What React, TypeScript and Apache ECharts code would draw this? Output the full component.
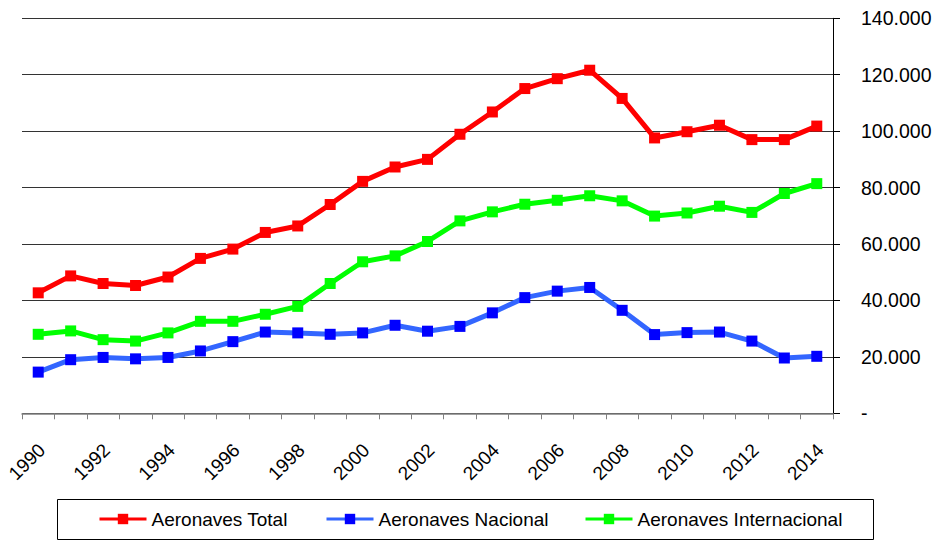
import React, { useEffect, useRef } from "react";
import * as echarts from "echarts";

const years = [
  "1990", "1991", "1992", "1993", "1994", "1995", "1996", "1997", "1998", "1999",
  "2000", "2001", "2002", "2003", "2004", "2005", "2006", "2007", "2008", "2009",
  "2010", "2011", "2012", "2013", "2014",
];

const aeronavesTotal = [
  42700, 48700, 46000, 45300, 48300, 54900, 58200, 64100, 66400, 74000,
  82200, 87300, 90000, 98900, 106800, 115100, 118600, 121600, 111600, 97600,
  99800, 102100, 97000, 97000, 101800,
];

const aeronavesNacional = [
  14600, 19000, 19800, 19300, 19800, 22100, 25400, 28800, 28500, 28000,
  28500, 31200, 29100, 30800, 35600, 41000, 43300, 44600, 36500, 27900,
  28600, 28800, 25600, 19600, 20200,
];

const aeronavesInternacional = [
  28000, 29200, 26100, 25600, 28500, 32600, 32600, 35100, 37900, 46000,
  53700, 55800, 60900, 68200, 71400, 74100, 75500, 77100, 75300, 69900,
  71000, 73400, 71200, 77900, 81400,
];

const seriesNames = ["Aeronaves Total", "Aeronaves Nacional", "Aeronaves Internacional"];

const FONT = "Liberation Sans";

function fmt(v: number): string {
  if (v === 0) return "-";
  const s = String(Math.round(v));
  return s.replace(/\B(?=(\d{3})+(?!\d))/g, ".");
}

export default function App() {
  const ref = useRef<HTMLDivElement>(null);
  useEffect(() => {
    if (!ref.current) return;
    const chart = echarts.init(ref.current, undefined, { renderer: "svg" });
    const legendBase = {
      orient: "horizontal",
      top: 509,
      padding: 0,
      itemWidth: 47,
      itemHeight: 13,
      itemGap: 0,
      lineStyle: { width: 3 },
      textStyle: { fontFamily: FONT, fontSize: 19, color: "#000", lineHeight: 20 },
    };
    chart.setOption({
      animation: false,
      backgroundColor: "#fff",
      grid: { left: 22, right: 103, top: 18.3, bottom: 126.7, containLabel: false },
      legend: [
        { ...legendBase, left: 98, data: [seriesNames[0]] },
        { ...legendBase, left: 325, data: [seriesNames[1]] },
        { ...legendBase, left: 584, data: [seriesNames[2]] },
      ],
      graphic: [
        {
          type: "rect",
          shape: { x: 57.5, y: 499.5, width: 816, height: 40 },
          style: { fill: "none", stroke: "#000", lineWidth: 1 },
          silent: true,
        },
      ],
      xAxis: {
        type: "category",
        data: years,
        boundaryGap: true,
        axisLine: { show: true, lineStyle: { color: "#808080", width: 1.5 } },
        axisTick: { show: true, interval: 0, length: 6, lineStyle: { color: "#808080", width: 1 } },
        axisLabel: {
          interval: 1,
          rotate: 45,
          margin: 30,
          verticalAlign: "top",
          lineHeight: 10,
          fontFamily: FONT,
          fontSize: 19,
          color: "#000",
        },
        splitLine: { show: false },
      },
      yAxis: {
        type: "value",
        position: "right",
        min: 0,
        max: 140000,
        interval: 20000,
        axisLine: { show: true, lineStyle: { color: "#000", width: 1 } },
        axisTick: { show: true, length: 7, lineStyle: { color: "#000", width: 1 } },
        axisLabel: {
          margin: 28,
          fontFamily: FONT,
          fontSize: 19.5,
          color: "#000",
          formatter: (v: number) => fmt(v),
        },
        splitLine: { show: true, lineStyle: { color: "#333", width: 1 } },
      },
      series: [
        {
          name: seriesNames[0],
          type: "line",
          data: aeronavesTotal,
          symbol: "rect",
          symbolSize: 11,
          lineStyle: { color: "#FF0000", width: 5 },
          itemStyle: { color: "#FF0000" },
        },
        {
          name: seriesNames[1],
          type: "line",
          data: aeronavesNacional,
          symbol: "rect",
          symbolSize: 11,
          lineStyle: { color: "#3366FF", width: 5 },
          itemStyle: { color: "#0000FF" },
        },
        {
          name: seriesNames[2],
          type: "line",
          data: aeronavesInternacional,
          symbol: "rect",
          symbolSize: 11,
          lineStyle: { color: "#00FF00", width: 5 },
          itemStyle: { color: "#00FF00" },
        },
      ],
    });
    return () => chart.dispose();
  }, []);
  return (
    <div
      ref={ref}
      style={{ position: "fixed", left: 0, top: 0, width: 936, height: 540, background: "#fff" }}
    />
  );
}
